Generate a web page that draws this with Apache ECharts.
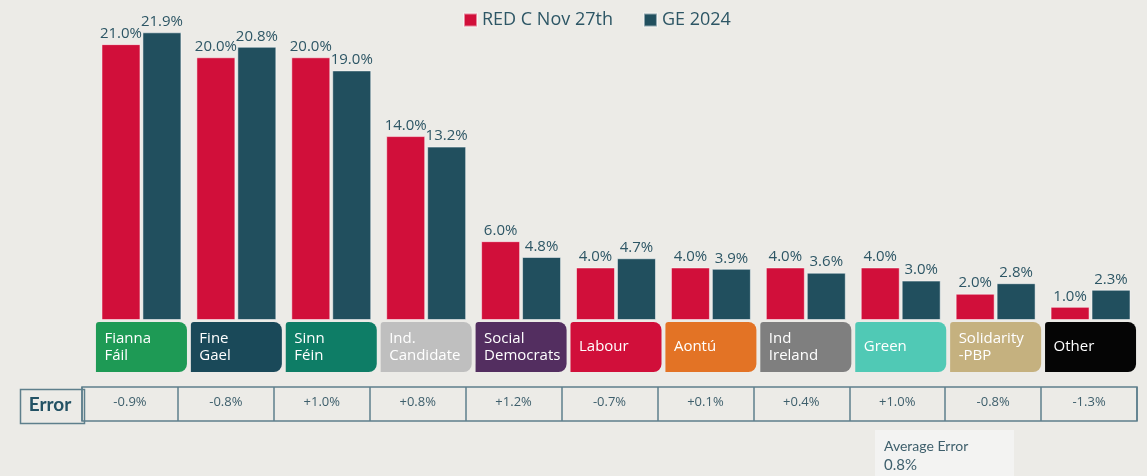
<!DOCTYPE html>
<html>
<head>
    <meta charset="utf-8">
    <title>RED C vs GE 2024</title>
    <script src="https://cdn.jsdelivr.net/npm/echarts@6/dist/echarts.min.js"></script>
    <style>
        html, body { margin: 0; padding: 0; background: #ECEBE7; }
        #main { width: 1147px; height: 476px; }
    </style>
</head>
<body>
<div id="main"></div>
<script type="text/javascript">
// data
var parties = ['Fianna\nFáil', 'Fine\nGael', 'Sinn\nFéin', 'Ind.\nCandidate', 'Social\nDemocrats', 'Labour', 'Aontú', 'Ind\nIreland', 'Green', 'Solidarity\n-PBP', 'Other'];
var redC = [21.0, 20.0, 20.0, 14.0, 6.0, 4.0, 4.0, 4.0, 4.0, 2.0, 1.0];
var ge2024 = [21.9, 20.8, 19.0, 13.2, 4.8, 4.7, 3.9, 3.6, 3.0, 2.8, 2.3];
var errors = ['-0.9%', '-0.8%', '+1.0%', '+0.8%', '+1.2%', '-0.7%', '+0.1%', '+0.4%', '+1.0%', '-0.8%', '-1.3%'];
var avgError = '0.8%';

// party colours for the label boxes
var boxColors = ['#1E9A55', '#1A4959', '#0E7D66', '#BFBFBF', '#532E60', '#D10F3A', '#E37325', '#7F7F7F', '#50C9B5', '#C5B17F', '#050505'];

var textCol = '#2D5665';
var lineCol = '#5E7F8C';

var myChart = echarts.init(document.getElementById('main'));

var option = {
    backgroundColor: '#ECEBE7',
    animation: false,
    legend: {
        data: ['RED C Nov 27th', 'GE 2024'],
        left: 463,
        top: 11,
        padding: 0,
        icon: 'rect',
        itemWidth: 13,
        itemHeight: 13,
        itemGap: 30,
        textStyle: { fontFamily: 'Open Sans', fontSize: 18, color: textCol }
    },
    grid: [
        { left: 94, right: 9, top: 31, bottom: 156 },
        { left: 82, right: 10, top: 387, height: 34, show: true, borderColor: lineCol, borderWidth: 1.5, backgroundColor: 'transparent' }
    ],
    xAxis: [
        {
            type: 'category', gridIndex: 0, data: parties,
            axisLine: { show: false }, axisTick: { show: false }, axisLabel: { show: false }
        },
        {
            type: 'category', gridIndex: 1, data: errors,
            axisLine: { show: false }, axisTick: { show: false },
            splitLine: { show: true, interval: 0, lineStyle: { color: lineCol, width: 1.5 } },
            axisLabel: { interval: 0, margin: -25, color: '#3E5F6C', fontFamily: 'Open Sans', fontSize: 13 }
        }
    ],
    yAxis: [
        { type: 'value', gridIndex: 0, min: 0, max: 22, show: false },
        { type: 'value', gridIndex: 1, show: false }
    ],
    series: [
        {
            name: 'RED C Nov 27th', type: 'bar', data: redC,
            barWidth: 39, barGap: '5%',
            itemStyle: { color: '#D10F3A', borderColor: 'rgba(255,255,255,0.5)', borderWidth: 1 },
            label: {
                show: true, position: 'top', distance: 3,
                fontFamily: 'Open Sans', fontSize: 15, color: textCol,
                formatter: function (p) { return p.value.toFixed(1) + '%'; }
            }
        },
        {
            name: 'GE 2024', type: 'bar', data: ge2024,
            barWidth: 39,
            itemStyle: { color: '#214F5E', borderColor: 'rgba(255,255,255,0.5)', borderWidth: 1 },
            label: {
                show: true, position: 'top', distance: 3,
                fontFamily: 'Open Sans', fontSize: 15, color: textCol,
                formatter: function (p) { return p.value.toFixed(1) + '%'; }
            }
        },
        {
            // coloured party boxes under each pair of bars
            type: 'custom',
            data: parties.map(function (p, i) { return [i, 0]; }),
            silent: true,
            renderItem: function (params, api) {
                var i = api.value(0);
                var pt = api.coord([i, 0]);
                return {
                    type: 'group',
                    children: [
                        {
                            type: 'rect',
                            shape: { x: pt[0] - 45.5, y: pt[1] + 2, width: 91, height: 50, r: [3, 8, 8, 0] },
                            style: { fill: boxColors[i] }
                        },
                        {
                            type: 'text',
                            style: {
                                x: pt[0] - 37, y: pt[1] + 27,
                                text: parties[i],
                                fill: '#fff',
                                font: '15px "Open Sans"',
                                lineHeight: 17,
                                verticalAlign: 'middle',
                                align: 'left'
                            }
                        }
                    ]
                };
            }
        }
    ],
    graphic: [
        {
            type: 'rect', left: 18, top: 387,
            shape: { width: 64, height: 34 },
            style: { fill: 'none', stroke: lineCol, lineWidth: 1.5 }
        },
        {
            type: 'text', x: 50, y: 405,
            style: { text: 'Error', font: 'bold 19px Lato', fill: '#235264', align: 'center', verticalAlign: 'middle' }
        },
        {
            type: 'rect', left: 875, top: 430,
            shape: { width: 139, height: 50 },
            style: { fill: '#F3F3F2' }
        },
        {
            type: 'text', x: 884, y: 446,
            style: { text: 'Average Error', font: '14px Lato', fill: '#3E5F6C', verticalAlign: 'middle' }
        },
        {
            type: 'text', x: 884, y: 465,
            style: { text: avgError, font: '15px Lato', fill: '#3E5F6C', verticalAlign: 'middle' }
        }
    ]
};

myChart.setOption(option);
</script>
</body>
</html>
